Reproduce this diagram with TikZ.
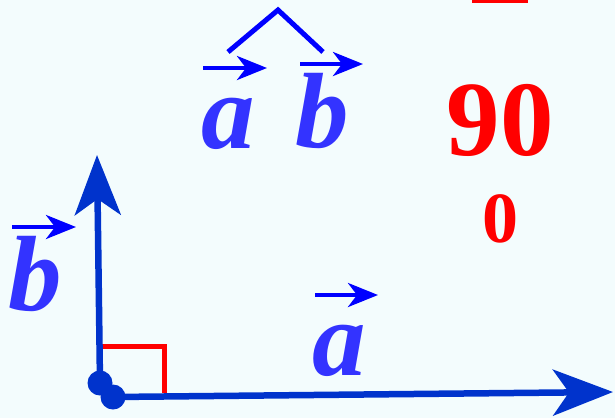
\documentclass[tikz,border=0pt]{standalone}
\usepackage{fontspec}
\setmainfont{Liberation Serif}
\usetikzlibrary{arrows.meta}
\definecolor{AxisBlue}{HTML}{0033CC}
\definecolor{LetterBlue}{HTML}{3333FF}
\definecolor{PureBlue}{HTML}{0000FF}
\definecolor{PaleSky}{HTML}{F3FCFD}

\begin{document}
\begin{tikzpicture}[
    x=1pt, y=-1pt,
    vecname/.style={font=\fontsize{107}{107}\selectfont\bfseries\itshape, text=LetterBlue, inner sep=0pt, anchor=base},
    degnum/.style={font=\fontsize{107}{107}\selectfont\bfseries, text=red, inner sep=0pt, anchor=base},
    overarrow/.style={-{Stealth[length=30pt, width=24pt, inset=9pt]}, line width=4pt, color=PureBlue},
    axis/.style={-{Stealth[length=60pt, width=46pt, inset=16pt]}, line width=6.5pt, color=AxisBlue},
    rightangle/.style={line width=5pt, color=red},
    dot/.style={circle, fill=AxisBlue, inner sep=0pt, minimum size=25pt}
  ]
    % Background
    \fill[PaleSky] (0,0) rectangle (615,418);
    \useasboundingbox (0,0) rectangle (615,418);

    % Angle between a and b (top)
    \node[vecname] (atop) at (228,148) {a};
    \node[vecname] (btop) at (322,147) {b};
    \draw[overarrow] (203,68) -- (267,68);
    \draw[overarrow] (300,64) -- (363,64);
    \draw[PureBlue, line width=5pt] (228,52) -- (278,10) -- (323,52);

    % Value (right)
    \fill[red] (472,0) rectangle (528,2.5);
    \node[degnum] (ninety) at (500,155) {90};
    \node[degnum, font=\fontsize{72}{72}\selectfont\bfseries] (zero) at (500,242) {0};

    % Perpendicular vectors
    \coordinate (borigin) at (100,383);
    \coordinate (aorigin) at (113,397);
    \coordinate (btip) at (97,155);
    \coordinate (atip) at (613,392);
    \draw[rightangle] (100,346) -- (164,346) -- (164,393);
    \draw[axis] (borigin) -- (btip);
    \draw[axis] (aorigin) -- (atip);
    \node[dot] (bdot) at (borigin) {};
    \node[dot] (adot) at (aorigin) {};

    % Labels
    \node[vecname] (bleft) at (35,310) {b};
    \draw[overarrow] (12,227) -- (76,227);
    \node[vecname] (abottom) at (339,375) {a};
    \draw[overarrow] (315,295) -- (378,295);

  \end{tikzpicture}
\end{document}
